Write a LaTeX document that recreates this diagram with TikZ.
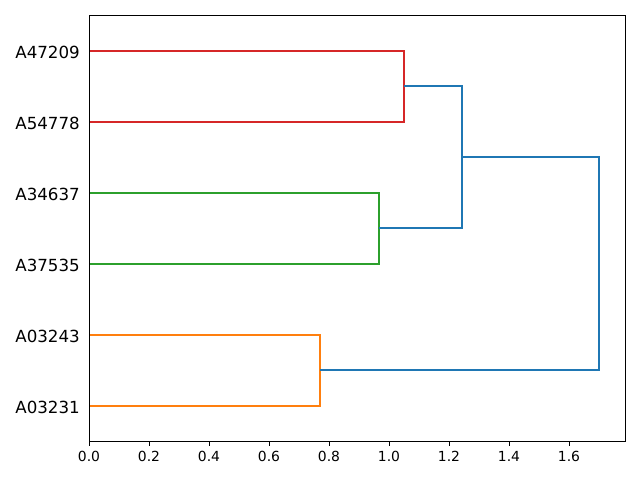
\documentclass[tikz,border=0pt]{standalone}
\usepackage{fontspec}
\setmainfont{DejaVu Sans}
\definecolor{mplblue}{HTML}{1F77B4}
\definecolor{mplorange}{HTML}{FF7F0E}
\definecolor{mplgreen}{HTML}{2CA02C}
\definecolor{mplred}{HTML}{D62728}
\tikzset{
  link/.style={line width=1.6pt},
  leaflabel/.style={anchor=east, inner sep=0pt, font=\fontsize{16.67}{20}\selectfont},
  ticklabel/.style={anchor=north, inner sep=0pt, font=\fontsize{13.89}{16}\selectfont},
  tickmark/.style={line width=0.9pt},
  frame/.style={line width=0.9pt}
}
\begin{document}
\begin{tikzpicture}[x=1pt,y=-1pt]
\useasboundingbox (0,0) rectangle (640,480);
% leaves
\coordinate (l1) at (89,51);
\coordinate (l2) at (89,122);
\coordinate (l3) at (89,193);
\coordinate (l4) at (89,264);
\coordinate (l5) at (89,335);
\coordinate (l6) at (89,406);
\node[leaflabel] (t1) at (80,52) {A47209};
\node[leaflabel] (t2) at (80,123) {A54778};
\node[leaflabel] (t3) at (80,194) {A34637};
\node[leaflabel] (t4) at (80,265) {A37535};
\node[leaflabel] (t5) at (80,336) {A03243};
\node[leaflabel] (t6) at (80,407) {A03231};
% merge points
\coordinate (r1) at (404,51);
\coordinate (r2) at (404,122);
\coordinate (rm) at (404,86);
\coordinate (g1) at (379,193);
\coordinate (g2) at (379,264);
\coordinate (gm) at (379,228);
\coordinate (o1) at (320,335);
\coordinate (o2) at (320,406);
\coordinate (om) at (320,370);
\coordinate (b1) at (462,86);
\coordinate (b2) at (462,228);
\coordinate (bm) at (462,157);
\coordinate (c1) at (599,157);
\coordinate (c2) at (599,370);
% links
\draw[link,mplred] (l1) -- (r1) -- (r2) -- (l2);
\draw[link,mplgreen] (l3) -- (g1) -- (g2) -- (l4);
\draw[link,mplorange] (l5) -- (o1) -- (o2) -- (l6);
\draw[link,mplblue] (rm) -- (b1) -- (b2) -- (gm);
\draw[link,mplblue] (bm) -- (c1) -- (c2) -- (om);
% frame
\draw[frame] (89,15) rectangle (625,441);
% x ticks
\foreach \v/\lab in {0/0.0,1/0.2,2/0.4,3/0.6,4/0.8,5/1.0,6/1.2,7/1.4,8/1.6}{
  \draw[tickmark] (89+60*\v,441) -- (89+60*\v,445.9);
  \node[ticklabel] (x\v) at (89+60*\v,451) {\lab};
}
\end{tikzpicture}
\end{document}
